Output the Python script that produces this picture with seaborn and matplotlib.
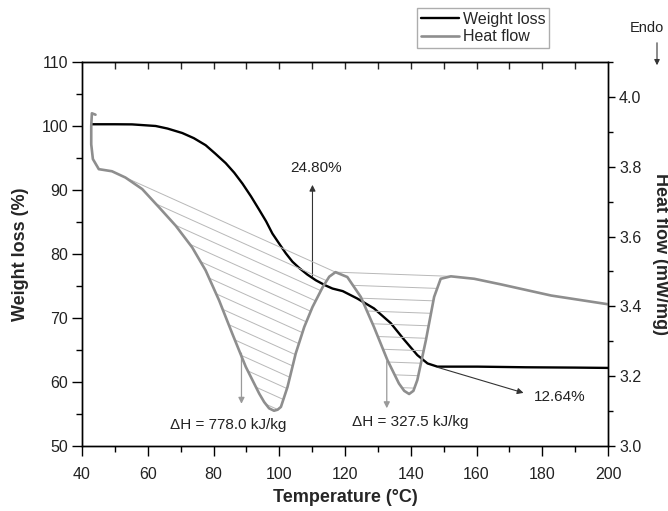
import matplotlib

matplotlib.use("Agg")
import matplotlib.pyplot as plt
import numpy as np
import pandas as pd
import seaborn as sns
from matplotlib.patches import Polygon
from matplotlib.ticker import MultipleLocator

# TGA curve (left axis)
weight_temp = [43.0, 50.0, 55.2, 62.4, 66.0, 70.5, 74.0, 77.6, 80.5, 83.7, 86.3,
               88.8, 91.4, 93.9, 96.0, 97.9, 100.0, 102.0, 104.0, 106.1, 108.5,
               111.1, 114.0, 116.2, 119.3, 123.7, 128.8, 133.9, 138.0, 142.0,
               145.1, 148.1, 160.3, 175.0, 190.0, 200.0]
weight_loss = [100.27, 100.27, 100.25, 100.0, 99.6, 98.9, 98.1, 97.0, 95.7, 94.2,
               92.7, 91.0, 89.0, 86.9, 85.1, 83.2, 81.6, 80.1, 78.8, 77.8, 76.8,
               75.9, 75.1, 74.6, 74.2, 73.05, 71.5, 69.2, 66.6, 64.2, 62.9, 62.4,
               62.4, 62.3, 62.25, 62.2]

# DSC curve (right axis)
heat_temp = [44.1, 43.0, 42.8, 42.8, 43.3, 45.1, 49.1, 53.2, 58.3, 63.4, 68.5,
             73.5, 77.6, 81.7, 85.7, 89.8, 93.9, 95.4, 96.9, 98.4, 99.5, 100.5,
             102.5, 105.0, 107.6, 110.1, 113.2, 115.2, 117.1, 120.7, 124.8, 128.8,
             132.9, 136.4, 138.0, 139.5, 140.8, 142.0, 144.6, 147.1, 149.1, 152.2,
             159.3, 167.4, 182.7, 200.0]
heat_flow = [3.949, 3.953, 3.917, 3.864, 3.822, 3.793, 3.787, 3.769, 3.736, 3.684,
             3.631, 3.569, 3.503, 3.417, 3.322, 3.227, 3.150, 3.126, 3.108, 3.101,
             3.104, 3.112, 3.169, 3.265, 3.341, 3.398, 3.455, 3.485, 3.498, 3.484,
             3.427, 3.341, 3.246, 3.179, 3.158, 3.149, 3.158, 3.189, 3.303, 3.427,
             3.479, 3.486, 3.479, 3.463, 3.431, 3.406]

# integration limits of the two endothermic peaks (temperatures on the DSC curve)
peak_limits = [(53.2, 117.1), (117.1, 152.2)]

pct_labels = ["24.80%", "12.64%"]
pct_text_xy = [(111.3, 93.4), (185.4, 57.6)]
pct_arrow_from = [(110.1, 76.5), (148.1, 62.3)]
pct_arrow_to = [(110.1, 90.8), (174.3, 58.3)]

dh_labels = ["\u0394H = 778.0 kJ/kg", "\u0394H = 327.5 kJ/kg"]
dh_text_xy = [(84.6, 53.3), (139.8, 53.75)]
dh_arrow_from = [(88.5, 64.5), (132.7, 63.2)]
dh_arrow_to = [(88.5, 56.6), (132.7, 55.9)]

sns.set_style("ticks")
plt.rcParams["font.family"] = ["Liberation Sans", "DejaVu Sans"]

GRAY = "#8e8e8e"
HATCH = "#b8b8b8"

fig = plt.figure(figsize=(6.68, 5.11), dpi=100)
ax = fig.add_axes([0.1228, 0.1272, 0.7874, 0.7515])
ax2 = ax.twinx()

tga = pd.DataFrame({"temp": weight_temp, "weight": weight_loss})
dsc = pd.DataFrame({"temp": heat_temp, "heat": heat_flow})

sns.lineplot(data=tga, x="temp", y="weight", ax=ax, color="black", lw=1.7,
             sort=False, estimator=None, legend=False, label="Weight loss")
sns.lineplot(data=dsc, x="temp", y="heat", ax=ax2, color=GRAY, lw=1.9,
             sort=False, estimator=None, legend=False, label="Heat flow")

# hatched peak areas: lines parallel to the baseline, clipped to the peak
ht = np.array(heat_temp)
hf = np.array(heat_flow)
for t0, t1 in peak_limits:
    mask = (ht >= t0) & (ht <= t1) & (np.arange(len(ht)) > 4)
    pts = np.column_stack([ht[mask], hf[mask]])
    poly = Polygon(pts, closed=True, facecolor="none", edgecolor="none")
    ax2.add_patch(poly)
    h0 = hf[mask][0]
    h1 = hf[mask][-1]
    slope = (h1 - h0) / (t1 - t0)
    ax2.plot([t0, t1], [h0, h1], color=HATCH, lw=0.7, zorder=1)
    xs = np.array([t0 - 5, t1 + 5])
    for k in range(1, 25):
        ys = h0 + slope * (xs - t0) - 0.036 * k
        ln, = ax2.plot(xs, ys, color=HATCH, lw=0.7, zorder=1)
        ln.set_clip_path(poly)

# axes ranges and ticks
ax.set_xlim(40, 200)
ax.set_ylim(50, 110)
ax2.set_ylim(3.0, 4.1)
ax.xaxis.set_major_locator(MultipleLocator(20))
ax.xaxis.set_minor_locator(MultipleLocator(10))
ax.yaxis.set_major_locator(MultipleLocator(10))
ax.yaxis.set_minor_locator(MultipleLocator(5))
ax2.set_yticks([3.0, 3.2, 3.4, 3.6, 3.8, 4.0])
ax2.yaxis.set_minor_locator(MultipleLocator(0.1))

ax.tick_params(which="major", direction="out", length=7, width=1, labelsize=11.5,
               pad=3, color="black", labelcolor="#222222")
ax.tick_params(which="minor", direction="out", length=4.5, width=1, color="black")
ax.tick_params(axis="x", which="major", pad=8)
ax2.tick_params(which="major", direction="out", length=5, width=1, labelsize=11.5,
                pad=3, color="black", labelcolor="#222222")
ax2.tick_params(which="minor", direction="out", length=3.5, width=1, color="black")

top = ax.secondary_xaxis("top")
top.set_xticks(np.arange(50, 200, 10))
top.tick_params(direction="in", length=5, width=1, labeltop=False)

for a in (ax, ax2):
    for sp in a.spines.values():
        sp.set_visible(True)
        sp.set_color("black")
        sp.set_linewidth(1)

ax.set_xlabel("Temperature (\u00b0C)", fontsize=13, fontweight="bold", labelpad=5)
ax.set_ylabel("Weight loss (%)", fontsize=13, fontweight="bold", labelpad=9)
ax2.set_ylabel("Heat flow (mW/mg)", fontsize=13, fontweight="bold", rotation=270,
               labelpad=20)

# annotations
arrow_dark = dict(arrowstyle="-|>", color="#333333", lw=0.8, mutation_scale=9,
                  shrinkA=0, shrinkB=0)
arrow_gray = dict(arrowstyle="-|>", color="#9a9a9a", lw=0.9, mutation_scale=9,
                  shrinkA=0, shrinkB=0)
for lab, txy, a0, a1 in zip(pct_labels, pct_text_xy, pct_arrow_from, pct_arrow_to):
    ax.annotate("", xy=a1, xytext=a0, arrowprops=arrow_dark)
    ax.text(*txy, lab, fontsize=11, ha="center", va="center", color="#222222")
for lab, txy, a0, a1 in zip(dh_labels, dh_text_xy, dh_arrow_from, dh_arrow_to):
    ax.annotate("", xy=a1, xytext=a0, arrowprops=arrow_gray)
    ax.text(*txy, lab, fontsize=11, ha="center", va="center", color="#222222")

fig.text(647 / 668, 1 - 28 / 511, "Endo", fontsize=10.5, ha="center", va="center",
         color="#222222")
fig.add_artist(matplotlib.patches.FancyArrowPatch(
    (657 / 668, 1 - 40 / 511), (657 / 668, 1 - 68 / 511),
    transform=fig.transFigure, arrowstyle="-|>", mutation_scale=8, lw=0.8,
    color="#333333"))

handles = [ax.lines[0], ax2.lines[0]]
fig.legend(handles, ["Weight loss", "Heat flow"], loc="upper left",
           bbox_to_anchor=(417 / 668, 1 - 8 / 511), fontsize=11.5, frameon=True,
           fancybox=False, edgecolor="#999999", handlelength=2.4,
           handletextpad=0.2, labelspacing=0.15, borderpad=0.25,
           borderaxespad=0)

fig.savefig("out.png", dpi=100, facecolor="white")
